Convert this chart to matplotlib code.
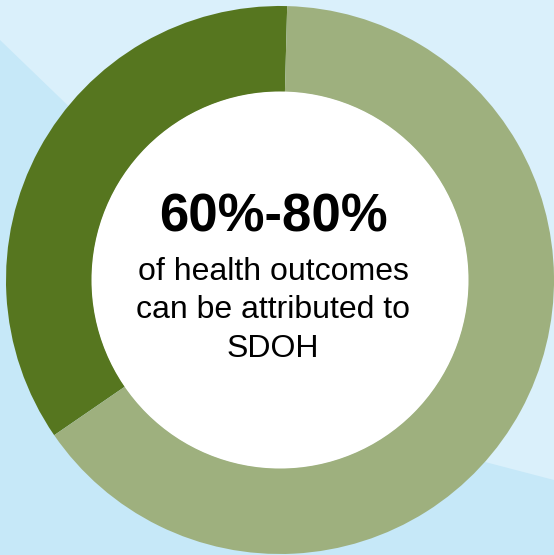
import matplotlib.pyplot as plt
from matplotlib.patches import Circle, Polygon

# data
shares = [35, 65]          # dark wedge (SDOH), light wedge
colors = ["#56761F", "#9EB07E"]
headline = "60%-80%"
body_lines = ["of health outcomes", "can be attributed to", "SDOH"]

W, H = 554, 555
fig = plt.figure(figsize=(W / 100, H / 100), dpi=100)
ax = fig.add_axes([0, 0, 1, 1])

# background with lighter swoosh
ax.add_patch(Polygon([(0, 0), (W, 0), (W, H), (0, H)], closed=True,
                     facecolor="#C6E8F8", edgecolor="none", zorder=0))
ax.add_patch(Polygon([(0, H), (0, 515), (140, 380), (420, 110), (W, 75), (W, H)],
                     closed=True, facecolor="#DAF0FB", edgecolor="none", zorder=0))

cx, cy, r_out, r_in = 280, 275, 274, 188
wedges, _ = ax.pie(shares, colors=colors, startangle=88.5, counterclock=True,
                   center=(cx, cy), radius=r_out, frame=True,
                   wedgeprops=dict(width=r_out - r_in, linewidth=0))
for w in wedges:
    w.set_zorder(2)
ax.add_patch(Circle((cx, cy), r_in + 0.5, facecolor="white", edgecolor="none", zorder=3))

plt.rcParams["font.family"] = ["Liberation Sans", "DejaVu Sans"]
ax.text(273, 338, headline, ha="center", va="center", fontsize=38,
        fontweight="bold", color="black", zorder=4)
for i, line in enumerate(body_lines):
    ax.text(273, 275 - i * 38.5, line, ha="center", va="baseline",
            fontsize=23, color="black", zorder=4)

ax.set_xlim(0, W)
ax.set_ylim(0, H)
ax.set_aspect("auto")
ax.axis("off")

fig.savefig("out.png", dpi=100)
